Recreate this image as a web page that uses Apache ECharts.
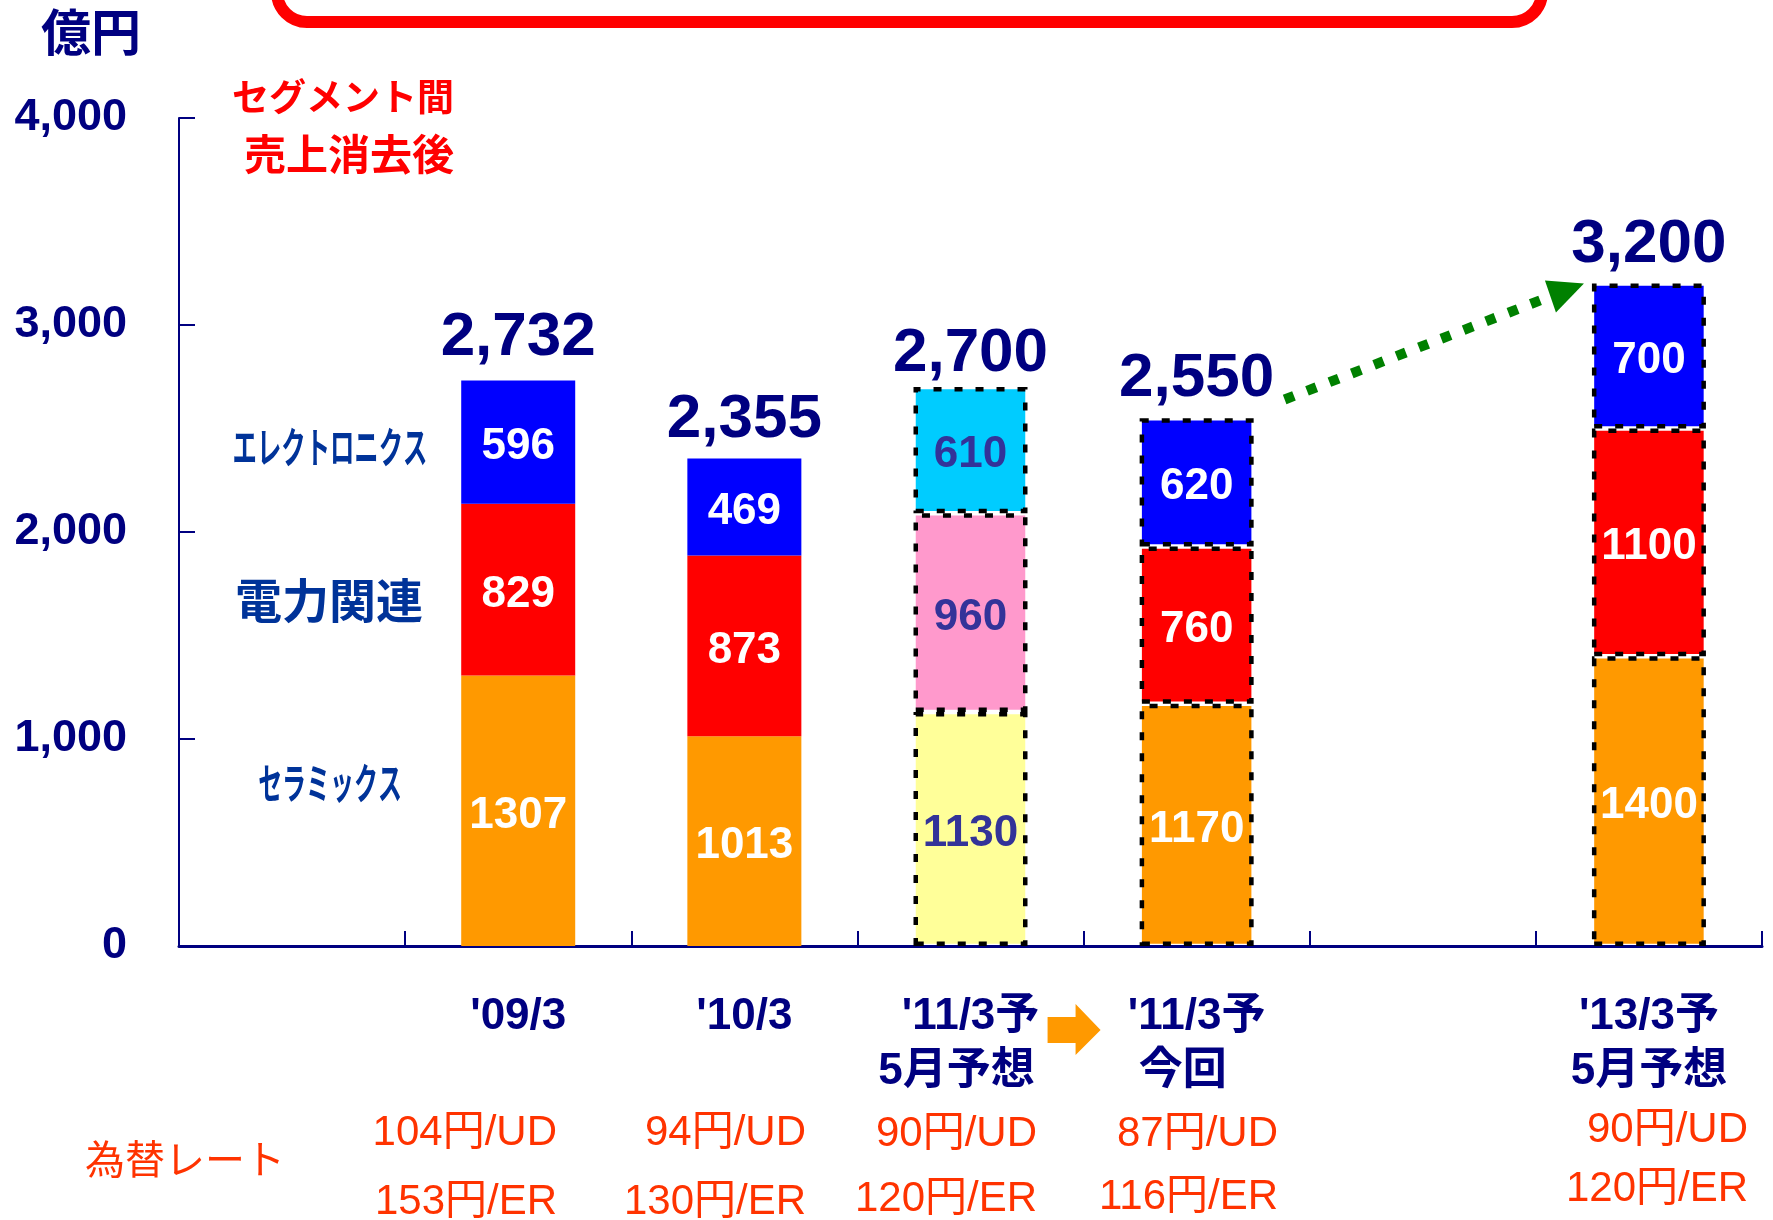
<!DOCTYPE html>
<html><head><meta charset="utf-8">
<script src="https://cdn.jsdelivr.net/npm/echarts@6/dist/echarts.min.js"></script>
<style>html,body{margin:0;padding:0;background:#fff}#c{width:1773px;height:1220px}</style>
</head><body><div id="c"></div>
<script>
// ---- data ----
const categories = ['', "'09/3", "'10/3", "'11/3予\n5月予想", "'11/3予\n今回", '', "'13/3予\n5月予想"];
const segmentNames = ['セラミックス', '電力関連', 'エレクトロニクス'];
const ceramics    = ['-', 1307, 1013, 1130, 1170, '-', 1400];
const power       = ['-',  829,  873,  960,  760, '-', 1100];
const electronics = ['-',  596,  469,  610,  620, '-',  700];
const totals      = ['-', 2732, 2355, 2700, 2550, '-', 3200];
const yTicks = { min: 0, max: 4000, interval: 1000 };
const usdRates = ['104円/UD', '94円/UD', '90円/UD', '87円/UD', '90円/UD'];
const eurRates = ['153円/ER', '130円/ER', '120円/ER', '116円/ER', '120円/ER'];
const rateTitle = '為替レート';
const unitLabel = '億円';
const noteLines = ['セグメント間', '売上消去後'];

// ---- layout / style ----
const FONT = '"Liberation Sans", "Noto Sans CJK JP", sans-serif';
const NAVY = '#000080';
const forecastIdx = [3, 4, 6];
const mayIdx = 3;
const BAR_W = 114;
const totalLabelDy = [0, 0, 4, 10, 4, 0, 4];
const fmt = v => String(v).replace(/\B(?=(\d{3})+(?!\d))/g, ',');

function mk(values, color, mayColor) {
  return values.map((v, i) => {
    if (v === '-') return '-';
    const item = { value: v, itemStyle: { color: i === mayIdx ? mayColor : color } };
    if (forecastIdx.includes(i)) {
      Object.assign(item.itemStyle, { borderColor: '#000', borderWidth: 4.5, borderType: [8, 13] });
    }
    if (i === mayIdx) item.label = { color: '#333399' };
    return item;
  });
}

const segLabel = { show: true, position: 'inside', offset: [0, 5], fontSize: 44, fontWeight: 'bold', color: '#fff',
  fontFamily: FONT, textBorderWidth: 0 };

const chart = echarts.init(document.getElementById('c'), null, { renderer: 'canvas', width: 1773, height: 1220 });

const lineStyleBase = { fontSize: 44, fontWeight: 'bold', color: NAVY, lineHeight: 55, fontFamily: FONT };

chart.setOption({
  animation: false,
  backgroundColor: '#fff',
  grid: { left: 179, right: 11, top: 118, bottom: 274, outerBoundsMode: 'none' },
  xAxis: {
    type: 'category', data: categories,
    axisLine: { show: true, lineStyle: { color: NAVY, width: 3 } },
    axisTick: { show: true, inside: true, length: 15, interval: 0, lineStyle: { color: NAVY, width: 2 } },
    axisLabel: {
      interval: 0, margin: 43,
      formatter: (value, idx) => {
        if (!value) return '';
        const parts = value.split('\n');
        if (parts.length === 1) return '{a|' + parts[0] + '}';
        const s2 = (idx === 3 || idx === 4) ? 'c' : 'b';
        return '{a|' + parts[0] + '}\n{' + s2 + '|' + parts[1] + '}';
      },
      rich: {
        a: Object.assign({}, lineStyleBase),
        b: Object.assign({}, lineStyleBase),
        c: Object.assign({ padding: [0, 28, 0, 0] }, lineStyleBase)
      }
    }
  },
  yAxis: {
    type: 'value', min: yTicks.min, max: yTicks.max, interval: yTicks.interval,
    axisLine: { show: true, lineStyle: { color: NAVY, width: 2 } },
    axisTick: { show: true, inside: true, length: 16, lineStyle: { color: NAVY, width: 2 } },
    splitLine: { show: false },
    axisLabel: { fontSize: 45, fontWeight: 'bold', color: NAVY, margin: 52, padding: [16, 0, 0, 0], fontFamily: FONT, formatter: v => fmt(v) }
  },
  series: [
    { name: segmentNames[0], type: 'bar', stack: 's', barWidth: BAR_W, barGap: '-100%', z: 3,
      data: mk(ceramics, '#FF9900', '#FFFF99'), label: segLabel },
    { name: segmentNames[1], type: 'bar', stack: 's', barWidth: BAR_W, barGap: '-100%', z: 3,
      data: mk(power, '#FF0000', '#FF99CC'), label: segLabel },
    { name: segmentNames[2], type: 'bar', stack: 's', barWidth: BAR_W, barGap: '-100%', z: 3,
      data: mk(electronics, '#0000FF', '#00CCFF'), label: segLabel },
    { name: '合計', type: 'bar', barWidth: BAR_W, barGap: '-100%', z: 1, silent: true,
      data: totals.map((v, i) => v === '-' ? '-' : { value: v, label: { offset: [0, totalLabelDy[i]] } }),
      itemStyle: { color: 'rgba(0,0,0,0)' },
      label: { show: true, position: 'top', distance: 12, fontSize: 62, fontWeight: 'bold', color: NAVY,
        fontFamily: FONT, formatter: p => fmt(p.value) } }
  ]
});

// ---- annotations ----
const P = (i, v) => chart.convertToPixel({ xAxisIndex: 0, yAxisIndex: 0 }, [i, v]);
const rateRight = [557, 806, 1037, 1278, 1748];
const rateY1 = [1133, 1133, 1134, 1134, 1130];
const rateY2 = [1202, 1202, 1199, 1197, 1189];
const segLabelPos = [[330, 787, 42, 0.57], [329, 605, 47, 1], [330, 451, 42, 0.58]];

const g = [];
// title box (cut off at top)
g.push({ type: 'rect', shape: { x: 277, y: -100, width: 1265, height: 122, r: 30 },
  style: { fill: '#fff', stroke: '#FF0000', lineWidth: 12 } });
g.push({ type: 'text', x: 91, y: 37, style: { text: unitLabel, font: 'bold 50px ' + FONT, fill: NAVY, align: 'center', verticalAlign: 'middle' } });
g.push({ type: 'text', x: 343, y: 101, style: { text: noteLines[0], font: 'bold 37px ' + FONT, fill: '#FF0000', align: 'center', verticalAlign: 'middle' } });
g.push({ type: 'text', x: 349, y: 158, style: { text: noteLines[1], font: 'bold 42px ' + FONT, fill: '#FF0000', align: 'center', verticalAlign: 'middle' } });
segmentNames.forEach((n, k) => {
  const [x, y, fs, sx] = segLabelPos[k];
  g.push({ type: 'text', x, y, scaleX: sx, style: { text: n, font: 'bold ' + fs + 'px ' + FONT, fill: '#003399', align: 'center', verticalAlign: 'middle' } });
});
g.push({ type: 'text', x: 185, y: 1163, style: { text: rateTitle, font: '40px ' + FONT, fill: '#FF3300', align: 'center', verticalAlign: 'middle' } });
usdRates.forEach((t, k) => {
  g.push({ type: 'text', x: rateRight[k], y: rateY1[k], style: { text: t, font: '42px ' + FONT, fill: '#FF3300', align: 'right', verticalAlign: 'middle' } });
  g.push({ type: 'text', x: rateRight[k], y: rateY2[k], style: { text: eurRates[k], font: '42px ' + FONT, fill: '#FF3300', align: 'right', verticalAlign: 'middle' } });
});
// orange block arrow between the two '11/3 forecasts
const bx = (P(3, 0)[0] + P(4, 0)[0]) / 2;
g.push({ type: 'polygon', shape: { points: [[bx - 36, 1017], [bx - 8, 1017], [bx - 8, 1004], [bx + 17, 1030], [bx - 8, 1055], [bx - 8, 1043], [bx - 36, 1043]] },
  style: { fill: '#FF9900' } });
// green dotted arrow to '13/3 forecast
const t0 = P(6, 3200);
const tip = [t0[0] - BAR_W / 2 - 8, t0[1]];
const s0 = P(4, 2640);
const start = [s0[0] + 88, s0[1]];
const endP = [tip[0] - 34, tip[1] + 13];
g.push({ type: 'line', shape: { x1: start[0], y1: start[1], x2: endP[0], y2: endP[1] },
  style: { stroke: '#008000', lineWidth: 10, lineDash: [10, 14], lineCap: 'butt' } });
g.push({ type: 'polygon', shape: { points: [tip, [tip[0] - 39, tip[1] - 3], [tip[0] - 28, tip[1] + 29]] },
  style: { fill: '#008000' } });

chart.setOption({ graphic: g });
</script></body></html>
